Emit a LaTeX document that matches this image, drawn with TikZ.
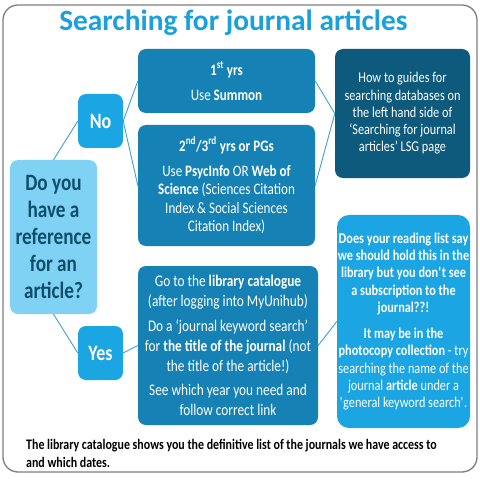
\documentclass[tikz,border=0pt]{standalone}
\usepackage{fontspec}
\setmainfont{Carlito}[FakeStretch=0.82]
\newfontfamily\titlefont{Carlito}
\definecolor{titleblue}{HTML}{1BA0DB}
\definecolor{brightbox}{HTML}{1CA5E3}
\definecolor{midbox}{HTML}{1681B5}
\definecolor{darkbox}{HTML}{0E5A7C}
\definecolor{lightbox}{HTML}{80D2F5}
\definecolor{darktext}{HTML}{0F4E6A}
\definecolor{linec}{HTML}{3FA2D0}
\definecolor{framec}{HTML}{7F7F7F}
\begin{document}
\begin{tikzpicture}[x=1bp,y=-1bp,
  box/.style={rounded corners=8bp, inner sep=0pt, align=center, text=white},
  conn/.style={draw=linec, line width=0.9bp}]
\useasboundingbox (0,0) rectangle (480,480);
\fill[white] (0,0) rectangle (480,480);
\draw[framec, line width=1.3bp, rounded corners=15bp] (3,5) rectangle (477,472);
\node[anchor=base, inner sep=0pt, text=titleblue, font=\titlefont\fontsize{29.5}{32}\selectfont\bfseries] (title) at (233.5,31) {Searching for journal articles};
% boxes
\node[box, fill=lightbox, text=darktext, minimum width=87bp, minimum height=154bp,
  font=\fontsize{23.5}{27}\selectfont\bfseries] (do) at (53.5,237) {Do you\\have a\\reference\\for an\\article?};
\node[box, fill=brightbox, minimum width=45bp, minimum height=54bp,
  font=\fontsize{22}{24}\selectfont\bfseries] (no) at (100.5,121) {No};
\node[box, fill=brightbox, minimum width=45bp, minimum height=54bp,
  font=\fontsize{22}{24}\selectfont\bfseries] (yes) at (100.5,353) {Yes};
\node[box, fill=midbox, minimum width=177bp, minimum height=64bp,
  font=\fontsize{16}{25}\selectfont] (first) at (226.5,81) {\textbf{1\textsuperscript{st} yrs}\\Use \textbf{Summon}};
\node[box, fill=midbox, minimum width=177bp, minimum height=121bp,
  font=\fontsize{16}{18.5}\selectfont] (second) at (226.5,185.5)
  {\textbf{2\textsuperscript{nd}/3\textsuperscript{rd} yrs or PGs}\\[7bp]Use \textbf{PsycInfo} OR \textbf{Web of}\\\textbf{Science} (Sciences Citation\\Index \& Social Sciences\\Citation Index)};
\node[box, fill=darkbox, minimum width=135bp, minimum height=129bp,
  font=\fontsize{15}{17.3}\selectfont] (how) at (402.5,113.5)
  {How to guides for\\searching databases on\\the left hand side of\\‘Searching for journal\\articles’ LSG page};
\node[box, fill=midbox, minimum width=180bp, minimum height=159bp,
  font=\fontsize{16.3}{20}\selectfont] (lib) at (228,345.5)
  {Go to the \textbf{library catalogue}\\(after logging into MyUnihub)\\[5bp]Do a ‘journal keyword search’\\for \textbf{the title of the journal} (not\\the title of the article!)\\[5bp]See which year you need and\\follow correct link};
\node[box, fill=brightbox, rounded corners=12bp, minimum width=133bp, minimum height=213bp,
  font=\fontsize{15}{17.3}\selectfont] (read) at (403.5,321.5)
  {\textbf{Does your reading list say}\\\textbf{we should hold this in the}\\\textbf{library but you don\textquotesingle t see}\\\textbf{a subscription to the}\\\textbf{journal??!}\\[9bp]\textbf{It may be in the}\\\textbf{photocopy collection} - try\\searching the name of the\\journal \textbf{article} under a\\\textquotesingle general keyword search\textquotesingle.};
\node[anchor=base west, align=left, inner sep=0pt, text=black,
  font=\fontsize{14.6}{18}\selectfont\bfseries] (foot) at (26,467)
  {The library catalogue shows you the definitive list of the journals we have access to\\and which dates.};
% connectors
\draw[conn] (do.north) -- (no.west);
\draw[conn] (do.south) -- (yes.west);
\draw[conn] (no.east) -- (first.west);
\draw[conn] (no.east) -- (second.west);
\draw[conn] (first.east) -- (how.west);
\draw[conn] (second.east) -- (how.west);
\draw[conn] (yes.east) -- (lib.west);
\draw[conn] (lib.east) -- (read.west);
\end{tikzpicture}
\end{document}
